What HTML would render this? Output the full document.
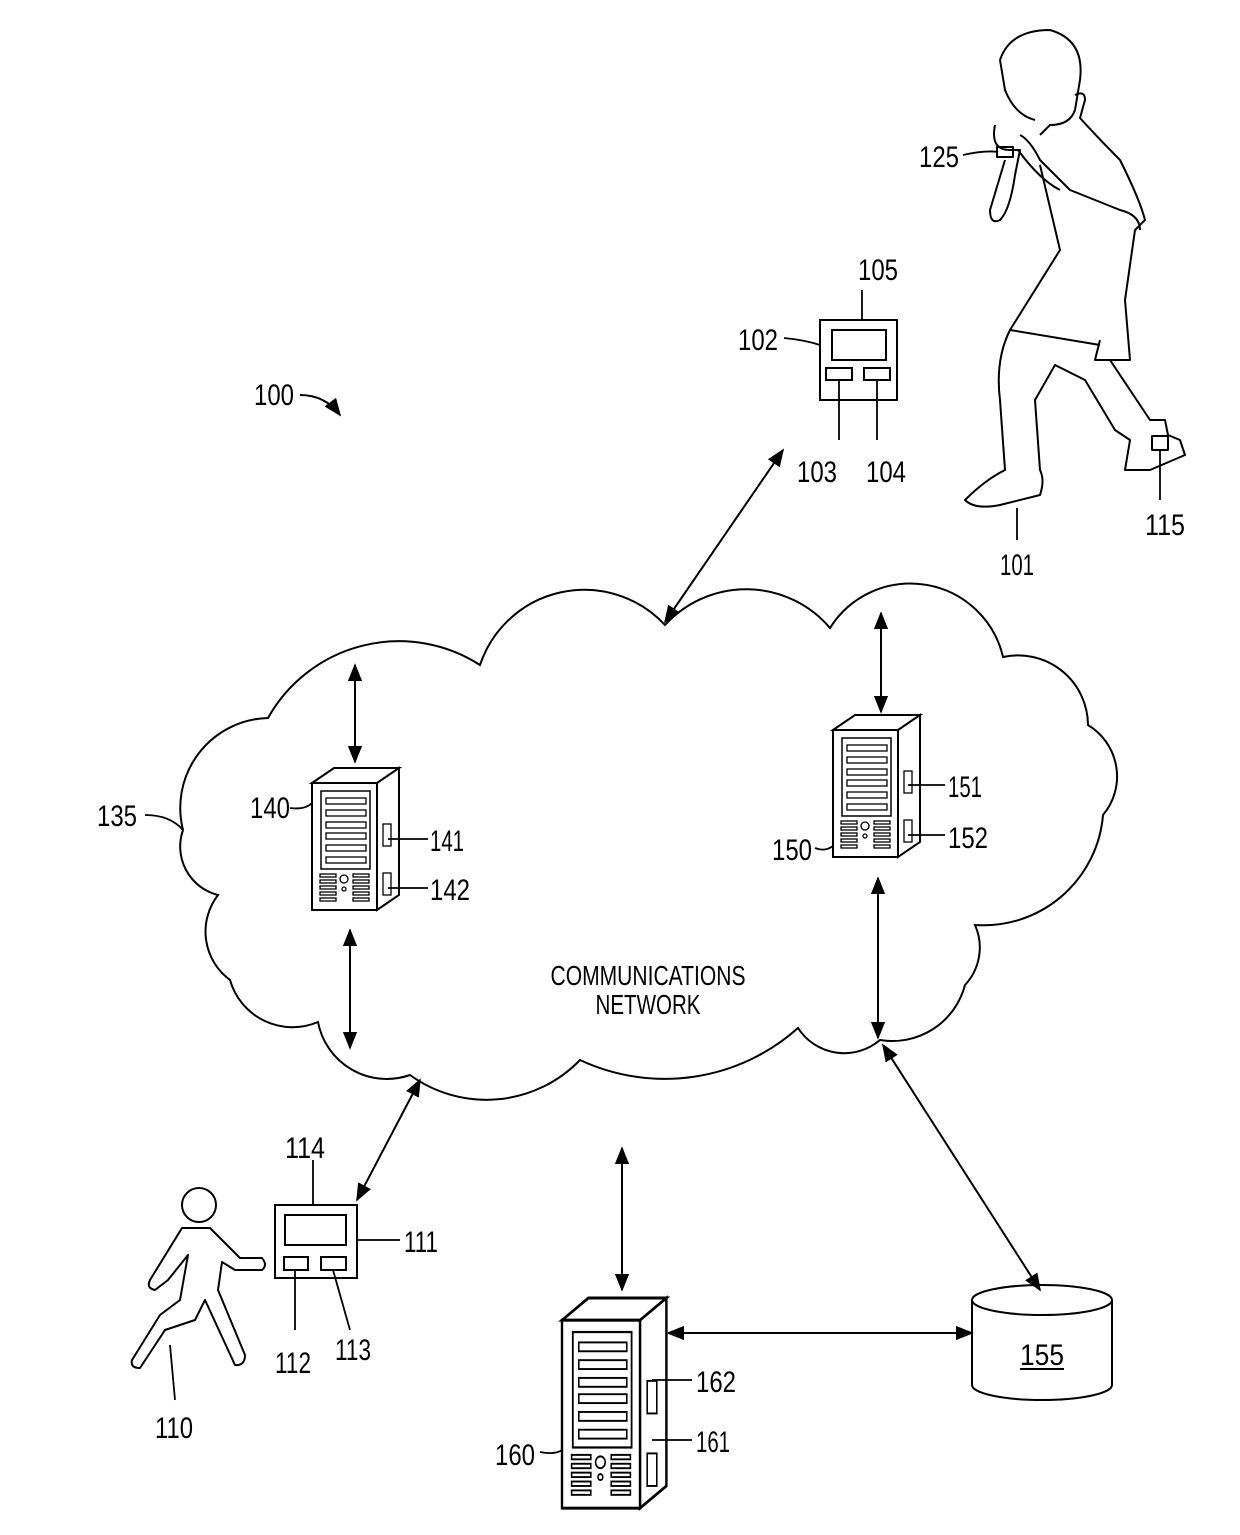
<!DOCTYPE html>
<html><head><style>html,body{margin:0;padding:0;background:#fff}svg{display:block}
text{font-family:"Liberation Sans Narrow","Liberation Sans",sans-serif;font-size:30px;fill:#000}</style></head>
<body>
<svg width="1240" height="1535" viewBox="0 0 1240 1535" xmlns="http://www.w3.org/2000/svg">
<defs>
<marker id="a" viewBox="0 0 10 10" refX="9" refY="5" markerWidth="9" markerHeight="9" orient="auto-start-reverse"><path d="M0,1 L10,5 L0,9 z" fill="#000"/></marker>
<g id="srv">
<path d="M0,15 L22,0 L87,0 L65,15 Z M65,15 L87,0 L87,127 L65,142 Z" fill="#fff" stroke="#000" stroke-width="2"/>
<rect x="0" y="15" width="65" height="127" fill="#fff" stroke="#000" stroke-width="2"/>
<rect x="9" y="23" width="49" height="78" fill="none" stroke="#000" stroke-width="1.5"/>
<g fill="none" stroke="#000" stroke-width="1.3">
<rect x="14" y="30" width="40" height="6"/><rect x="14" y="42" width="40" height="6"/><rect x="14" y="54" width="40" height="6"/><rect x="14" y="65" width="40" height="6"/><rect x="14" y="77" width="40" height="6"/><rect x="14" y="89" width="40" height="6"/>
<rect x="8" y="106" width="16" height="3"/><rect x="8" y="112" width="16" height="3"/><rect x="8" y="118" width="16" height="3"/><rect x="8" y="124" width="16" height="3"/><rect x="8" y="130" width="16" height="3"/>
<rect x="41" y="106" width="16" height="3"/><rect x="41" y="112" width="16" height="3"/><rect x="41" y="118" width="16" height="3"/><rect x="41" y="124" width="16" height="3"/><rect x="41" y="130" width="16" height="3"/>
<circle cx="32" cy="111" r="4"/><circle cx="32" cy="121" r="2"/>
<rect x="71" y="56" width="8" height="22"/><rect x="71" y="105" width="8" height="22"/>
</g></g>
</defs>

<!-- cloud -->
<path d="M183,830 A90,90 0 0 1 268,718 A150,150 0 0 1 480,665 A110,110 0 0 1 665,625 A110,110 0 0 1 830,628 A95,95 0 0 1 1003,657 A70,70 0 0 1 1088,725 A60,60 0 0 1 1103,815 A120,120 0 0 1 975,925 A55,55 0 0 1 965,985 A75,75 0 0 1 880,1040 A55,55 0 0 1 798,1028 A200,200 0 0 1 580,1060 A130,130 0 0 1 410,1075 A70,70 0 0 1 318,1022 A65,65 0 0 1 230,980 A60,60 0 0 1 218,895 A50,50 0 0 1 183,830 Z" fill="none" stroke="#000" stroke-width="2"/>
<text x="648" y="985" text-anchor="middle" textLength="195" lengthAdjust="spacingAndGlyphs" style="font-size:28px">COMMUNICATIONS</text>
<text x="648" y="1014" text-anchor="middle" textLength="105" lengthAdjust="spacingAndGlyphs" style="font-size:28px">NETWORK</text>

<use href="#srv" x="312" y="768"/>
<use href="#srv" x="833" y="715"/>
<g transform="translate(562,1298) scale(1.2,1.48)"><use href="#srv"/></g>

<!-- devices -->
<g fill="none" stroke="#000" stroke-width="2">
<rect x="820" y="320" width="77" height="80"/><rect x="832" y="330" width="54" height="30"/><rect x="826" y="368" width="26" height="12"/><rect x="864" y="368" width="26" height="12"/>
<rect x="275" y="1205" width="82" height="73"/><rect x="285" y="1215" width="61" height="30"/><rect x="284" y="1257" width="24" height="13"/><rect x="321" y="1257" width="25" height="13"/>
<path d="M972,1300 L972,1385 A70,15 0 0 0 1112,1385 L1112,1300"/><ellipse cx="1042" cy="1300" rx="70" ry="15"/>
</g>
<text x="1042" y="1365" text-anchor="middle" textLength="44" lengthAdjust="spacingAndGlyphs">155</text>
<line x1="1020" y1="1369" x2="1064" y2="1369" stroke="#000" stroke-width="2"/>

<!-- arrows -->
<g stroke="#000" stroke-width="2" marker-start="url(#a)" marker-end="url(#a)">
<line x1="665" y1="622" x2="783" y2="450"/>
<line x1="355" y1="665" x2="355" y2="762"/>
<line x1="350" y1="930" x2="350" y2="1048"/>
<line x1="881" y1="613" x2="881" y2="712"/>
<line x1="878" y1="878" x2="878" y2="1038"/>
<line x1="420" y1="1080" x2="357" y2="1200"/>
<line x1="883" y1="1045" x2="1040" y2="1290"/>
<line x1="622" y1="1148" x2="622" y2="1290"/>
<line x1="668" y1="1333" x2="972" y2="1333"/>
</g>

<!-- walking person -->
<g fill="none" stroke="#000" stroke-width="2" stroke-linejoin="round">
<circle cx="199" cy="1205" r="17"/>
<path d="M182,1228 L210,1228 L240,1258 L262,1258 Q268,1265 262,1270 L235,1270 L222,1262 L218,1290 L245,1355 Q245,1366 235,1365 L205,1300 L195,1320 L165,1330 L140,1368 Q130,1368 132,1360 L160,1315 L180,1300 L188,1255 L168,1280 L155,1290 Q146,1288 150,1280 L182,1228 Z"/>
</g>

<!-- boxer (simplified) -->
<g fill="none" stroke="#000" stroke-width="2" stroke-linejoin="round">
<path d="M1000,60 Q1010,30 1050,30 Q1085,40 1080,80 L1075,110 Q1070,125 1050,125 L1040,135"/>
<path d="M1000,60 L1005,90 Q1015,115 1035,120"/>
<path d="M1075,95 Q1085,90 1085,100 L1080,118 Q1100,140 1120,160 Q1140,200 1145,220 L1135,230 L1125,300 L1130,360 L1095,360 L1100,340"/>
<path d="M1020,135 Q1030,140 1040,160 L1070,190 L1120,210 Q1140,215 1140,230"/>
<path d="M1040,165 L1060,250 L1010,330 L1100,345"/>
<path d="M995,125 Q990,150 1010,150 L1020,150 L1015,175 Q1010,210 1000,220 Q990,225 990,210 L1005,160"/>
<path d="M1018,150 Q1040,180 1060,190"/>
<path d="M1010,330 Q995,360 1000,400 L1005,470 Q985,480 965,500 Q975,510 1000,505 L1040,495 Q1045,480 1040,470 L1035,400 L1055,365 L1085,380 L1115,430 L1130,440 L1125,470 L1150,470 L1185,455 L1180,440 L1168,435 L1165,420 L1150,420 L1110,360"/>
<rect x="1152" y="436" width="16" height="14"/>
<rect x="997" y="147" width="16" height="10"/>
</g>

<!-- leaders -->
<g fill="none" stroke="#000" stroke-width="1.8">
<path d="M784,338 Q805,340 820,345"/>
<path d="M862,290 L862,320"/>
<path d="M839,380 L839,440"/><path d="M877,380 L877,440"/>
<path d="M963,155 Q985,150 998,152"/>
<path d="M1017,508 L1017,540"/>
<path d="M1160,450 L1160,500"/>
<path d="M145,815 Q170,815 183,830"/>
<path d="M290,808 Q305,810 312,803"/>
<path d="M388,839 L428,839"/><path d="M388,888 L428,888"/>
<path d="M908,785 L945,785"/><path d="M908,835 L945,835"/>
<path d="M815,848 Q825,852 833,846"/>
<path d="M313,1160 L313,1205"/>
<path d="M357,1240 L400,1240"/>
<path d="M295,1270 L295,1330"/><path d="M333,1270 L350,1330"/>
<path d="M170,1345 L175,1400"/>
<path d="M652,1380 L692,1380"/><path d="M652,1440 L692,1440"/>
<path d="M540,1452 Q555,1455 562,1450"/>
</g>
<path d="M300,395 Q325,395 340,415" fill="none" stroke="#000" stroke-width="2" marker-end="url(#a)"/>

<g>
<text x="254" y="405" textLength="40" lengthAdjust="spacingAndGlyphs">100</text>
<text x="738" y="350" textLength="40" lengthAdjust="spacingAndGlyphs">102</text>
<text x="858" y="280" textLength="40" lengthAdjust="spacingAndGlyphs">105</text>
<text x="797" y="482" textLength="40" lengthAdjust="spacingAndGlyphs">103</text>
<text x="866" y="482" textLength="40" lengthAdjust="spacingAndGlyphs">104</text>
<text x="919" y="167" textLength="40" lengthAdjust="spacingAndGlyphs">125</text>
<text x="1000" y="575" textLength="34" lengthAdjust="spacingAndGlyphs">101</text>
<text x="1145" y="535" textLength="40" lengthAdjust="spacingAndGlyphs">115</text>
<text x="97" y="826" textLength="40" lengthAdjust="spacingAndGlyphs">135</text>
<text x="250" y="818" textLength="40" lengthAdjust="spacingAndGlyphs">140</text>
<text x="430" y="851" textLength="34" lengthAdjust="spacingAndGlyphs">141</text>
<text x="430" y="900" textLength="40" lengthAdjust="spacingAndGlyphs">142</text>
<text x="948" y="797" textLength="34" lengthAdjust="spacingAndGlyphs">151</text>
<text x="948" y="848" textLength="40" lengthAdjust="spacingAndGlyphs">152</text>
<text x="772" y="860" textLength="40" lengthAdjust="spacingAndGlyphs">150</text>
<text x="285" y="1158" textLength="40" lengthAdjust="spacingAndGlyphs">114</text>
<text x="404" y="1252" textLength="34" lengthAdjust="spacingAndGlyphs">111</text>
<text x="275" y="1373" textLength="36" lengthAdjust="spacingAndGlyphs">112</text>
<text x="335" y="1360" textLength="36" lengthAdjust="spacingAndGlyphs">113</text>
<text x="155" y="1438" textLength="38" lengthAdjust="spacingAndGlyphs">110</text>
<text x="696" y="1392" textLength="40" lengthAdjust="spacingAndGlyphs">162</text>
<text x="696" y="1452" textLength="34" lengthAdjust="spacingAndGlyphs">161</text>
<text x="495" y="1465" textLength="40" lengthAdjust="spacingAndGlyphs">160</text>
</g>
</svg>
</body></html>
